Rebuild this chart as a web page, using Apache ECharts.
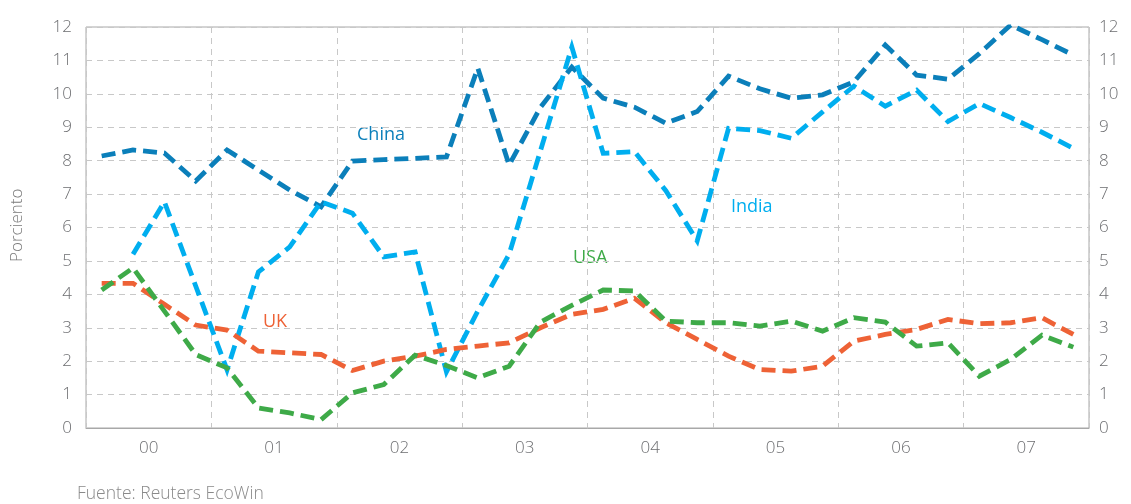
<!DOCTYPE html>
<html>
<head>
<meta charset="utf-8">
<script src="https://cdn.jsdelivr.net/npm/echarts@6/dist/echarts.min.js"></script>
<style>html,body{margin:0;padding:0;background:#fff;}#c{width:1131px;height:504px;}</style>
</head>
<body>
<div id="c"></div>
<script>
const yearLabels = ['00','01','02','03','04','05','06','07'];
const quarters = [];
for (const y of yearLabels) { for (let q = 1; q <= 4; q++) quarters.push(y + 'Q' + q); }
const yTicks = [0,1,2,3,4,5,6,7,8,9,10,11,12];

const china = [8.14,8.32,8.23,7.39, 8.32,7.72,7.12,6.62, 7.99,8.03,8.07,8.11, 10.77,7.87,9.6,10.8, 9.87,9.6,9.12,9.47, 10.53,10.15,9.87,9.97, 10.36,11.46,10.56,10.44, 11.2,12.06,11.62,11.16];
const india = [null,5.2,6.77,4.25, 1.74,4.67,5.42,6.77, 6.43,5.12,5.27,1.68, 3.5,5.2,8.3,11.4, 8.22,8.27,7.1,5.6, 8.97,8.9,8.67,9.46, 10.23,9.63,10.11,9.17, 9.71,9.29,8.85,8.37];
const uk = [4.33,4.33,3.7,3.08, 2.93,2.3,2.25,2.2, 1.72,2.0,2.15,2.35, 2.45,2.55,3.0,3.4, 3.55,3.88,3.15,2.65, 2.15,1.75,1.7,1.85, 2.6,2.8,2.95,3.25, 3.12,3.15,3.3,2.8];
const usa = [4.13,4.79,3.5,2.2, 1.8,0.6,0.45,0.25, 1.05,1.3,2.18,1.87, 1.5,1.85,3.17,3.67, 4.13,4.1,3.2,3.15, 3.15,3.05,3.2,2.9, 3.3,3.17,2.45,2.55, 1.55,2.05,2.78,2.42];

const seriesNames = ['China','India','UK','USA'];
const colors = ['#0b7fba','#00aeef','#ee6236','#3eaa48'];

const chart = echarts.init(document.getElementById('c'), null, {renderer:'canvas'});
const font = 'Open Sans';
const tickColor = '#6d6e71';
function mkSeries(name, data, color) {
  return {
    name, type:'line', data, xAxisIndex:0, yAxisIndex:0,
    showSymbol:false, symbol:'none', connectNulls:false,
    lineStyle:{color, width:4.8, type:[14,7], join:'miter', miterLimit:20, cap:'butt'},
    emphasis:{disabled:true}, animation:false, z:3
  };
}
const yAxisBase = {
  type:'value', min:0, max:12, interval:1,
  axisLine:{show:false}, axisTick:{show:false},
  axisLabel:{color:tickColor, fontSize:17, fontFamily:font, fontWeight:300,
    formatter: v => yTicks.includes(v) ? String(v) : ''}
};
chart.setOption({
  animation:false,
  backgroundColor:'#fff',
  grid:{left:86, right:42, top:27, bottom:76, show:true, borderColor:'#a8a8a8', borderWidth:1, containLabel:false},
  xAxis:[
    {type:'category', data:quarters, boundaryGap:true, show:true,
     axisLine:{show:false}, axisTick:{show:false}, axisLabel:{show:false}, splitLine:{show:false}},
    {type:'category', data:yearLabels, boundaryGap:true, position:'bottom',
     axisLine:{show:true, lineStyle:{color:'#a8a8a8'}}, axisTick:{show:false},
     axisLabel:{color:tickColor, fontSize:17, fontFamily:font, fontWeight:300, margin:12},
     splitLine:{show:true, lineStyle:{color:'#c8c8c8', type:[6,5], width:1}}}
  ],
  yAxis:[
    Object.assign({}, yAxisBase, {position:'left', axisLabel:Object.assign({}, yAxisBase.axisLabel, {margin:14}),
      splitLine:{show:true, lineStyle:{color:'#c8c8c8', type:[6,5], width:1}}}),
    Object.assign({}, yAxisBase, {position:'right', axisLabel:Object.assign({}, yAxisBase.axisLabel, {margin:10}),
      splitLine:{show:false}})
  ],
  series:[
    mkSeries(seriesNames[0], china, colors[0]),
    mkSeries(seriesNames[1], india, colors[1]),
    mkSeries(seriesNames[2], uk, colors[2]),
    mkSeries(seriesNames[3], usa, colors[3])
  ],
  graphic:[
    {type:'text', x:9, y:262, rotation:Math.PI/2, style:{text:'Porciento', fill:'#7a7a7a', font:'300 17px "Open Sans"'}},
    {type:'text', left:357, top:126, style:{text:'China', fill:colors[0], font:'400 18px "Open Sans"'}},
    {type:'text', left:731, top:198, style:{text:'India', fill:colors[1], font:'400 18px "Open Sans"'}},
    {type:'text', left:573, top:249, style:{text:'USA', fill:colors[3], font:'400 18px "Open Sans"'}},
    {type:'text', left:263, top:313, style:{text:'UK', fill:colors[2], font:'400 18px "Open Sans"'}},
    {type:'text', left:77, top:485, style:{text:'Fuente: Reuters EcoWin', fill:'#8a8a8a', font:'300 17.5px "Open Sans"'}}
  ]
});
</script>
</body>
</html>
